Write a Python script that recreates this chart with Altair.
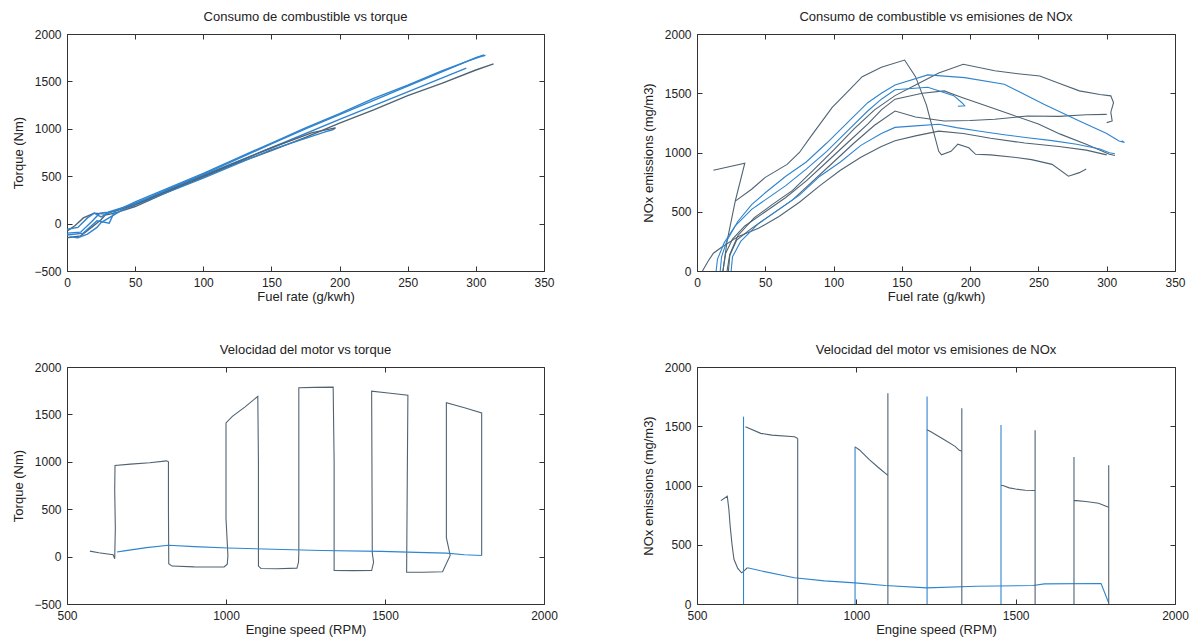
import altair as alt
import pandas as pd

BLUE = "#2f84cf"
GREY = "#4f6373"
FONT = "Liberation Sans"

# ---------------- Panel 1: fuel rate vs torque ----------------
P1_A_X = [0, 8, 15, 20, 25, 30, 40, 50, 75, 100, 125, 150, 175, 200, 225, 250, 275, 295, 303, 307, 304]
P1_A_Y = [-60, -40, 60, 110, 70, 110, 160, 230, 380, 530, 690, 850, 1010, 1160, 1320, 1460, 1610, 1720, 1760, 1775, 1765]
P1_B_X = [0, 10, 18, 24, 30, 50, 75, 100, 125, 150, 175, 200, 225, 250, 275, 300, 306]
P1_B_Y = [-100, -90, 20, 110, 120, 210, 370, 520, 680, 840, 1000, 1150, 1300, 1450, 1600, 1750, 1780]
P1_C_X = [0, 10, 18, 25, 28, 35, 50, 75, 100, 125, 150, 175, 200, 225, 250, 275, 300, 313]
P1_C_Y = [-150, -130, -40, 40, 90, 110, 180, 340, 490, 640, 770, 910, 1060, 1200, 1350, 1480, 1620, 1685]
P1_D_X = [0, 12, 22, 31, 35, 60, 100, 150, 200, 250, 293]
P1_D_Y = [-120, -100, 30, 5, 130, 270, 510, 800, 1100, 1390, 1640]
P1_E_X = [0, 6, 12, 20, 28, 50, 100, 150, 180, 197, 195]
P1_E_Y = [-80, -20, 60, 110, 100, 200, 500, 800, 960, 1010, 990]
P1_F_X = [2, 8, 15, 22, 25, 40, 100, 150, 190, 195]
P1_F_Y = [-140, -150, -110, -40, 10, 140, 480, 780, 970, 990]

# ---------------- Panel 2: fuel rate vs NOx ----------------
P2_A0_X = [12, 35, 28, 22, 19]
P2_A0_Y = [850, 910, 590, 250, 0]
P2_A_X = [28, 40, 50, 66, 75, 83, 99, 110, 121, 135, 152, 160, 168, 177, 179, 186, 191, 199, 204, 215, 232, 245, 260, 272, 280, 285]
P2_A_Y = [590, 690, 790, 900, 1000, 1130, 1380, 1510, 1640, 1720, 1780, 1640, 1400, 1010, 980, 1010, 1070, 1040, 985, 980, 960, 940, 900, 800, 830, 860]
P2_B_X = [22, 24, 30, 42, 55, 70, 85, 100, 115, 130, 145, 160, 177, 195, 218, 235, 251, 266, 280, 295, 303, 305, 303, 304, 300]
P2_B_Y = [0, 140, 300, 450, 560, 680, 850, 1020, 1200, 1360, 1480, 1570, 1670, 1745, 1690, 1665, 1645, 1580, 1520, 1490, 1478, 1420, 1340, 1266, 1252]
P2_C_X = [17, 18, 22, 30, 40, 50, 65, 80, 95, 110, 125, 135, 145, 169, 196, 225, 254, 280, 300, 309, 313, 311]
P2_C_Y = [0, 120, 260, 420, 560, 660, 800, 920, 1080, 1250, 1420, 1500, 1570, 1655, 1632, 1576, 1407, 1266, 1160, 1097, 1085, 1100]
P2_D_X = [14, 15, 20, 28, 40, 50, 65, 80, 95, 110, 125, 135, 145, 169, 188, 194, 196, 191]
P2_D_Y = [0, 100, 240, 380, 520, 600, 720, 860, 1010, 1180, 1350, 1450, 1530, 1550, 1480, 1420, 1395, 1390]
P2_E_X = [19, 21, 26, 35, 50, 65, 80, 95, 110, 125, 135, 145, 165, 181, 194, 210, 230, 250, 266, 285, 302, 306]
P2_E_Y = [0, 150, 270, 380, 500, 620, 760, 920, 1080, 1240, 1360, 1450, 1500, 1520, 1465, 1400, 1320, 1240, 1155, 1070, 985, 975]
P2_F_X = [23, 24, 29, 40, 55, 70, 85, 100, 115, 130, 145, 160, 181, 200, 218, 242, 265, 285, 300]
P2_F_Y = [0, 130, 260, 360, 480, 600, 760, 920, 1080, 1230, 1350, 1300, 1266, 1270, 1280, 1308, 1305, 1318, 1322]
P2_G_X = [25, 26, 32, 45, 60, 75, 90, 105, 120, 135, 145, 160, 177, 190, 206, 225, 242, 260, 278, 295, 302, 306]
P2_G_Y = [0, 120, 250, 400, 520, 640, 800, 920, 1060, 1160, 1212, 1225, 1238, 1210, 1182, 1150, 1125, 1100, 1069, 1030, 998, 990]
P2_H_X = [4, 8, 12, 18, 30, 45, 60, 75, 90, 105, 120, 135, 145, 160, 177, 195, 215, 240, 265, 285, 300]
P2_H_Y = [0, 80, 150, 200, 290, 360, 460, 580, 720, 850, 960, 1050, 1100, 1140, 1180, 1160, 1120, 1080, 1050, 1020, 980]

# ---------------- Panel 3: engine speed vs torque ----------------
P3_T_X = [572, 600, 645, 650, 652, 650, 651, 700, 760, 813, 819, 819, 820, 830, 900, 960, 994, 1004, 1006, 1000, 1000,
          1020, 1060, 1100, 1102, 1102, 1110, 1160, 1223, 1228, 1229, 1229, 1280, 1337, 1340, 1340, 1400, 1458, 1464,
          1460, 1458, 1510, 1572, 1570, 1568, 1620, 1681, 1705, 1693, 1693, 1750, 1804, 1804]
P3_T_Y = [58, 40, 20, -22, 300, 700, 961, 975, 990, 1010, 1000, 500, -75, -100, -108, -110, -110, -80, 12, 400, 1410,
          1480, 1580, 1690, 1000, -100, -125, -128, -122, -60, 40, 1781, 1785, 1788, 1000, -147, -148, -147, -60,
          40, 1746, 1725, 1703, 800, -165, -165, -160, 12, 200, 1622, 1570, 1516, 12]
P3_B_X = [1804, 1750, 1693, 1600, 1488, 1300, 1006, 900, 819, 750, 680, 657]
P3_B_Y = [12, 20, 37, 45, 55, 65, 90, 105, 119, 95, 60, 48]

# ---------------- Panel 4: engine speed vs NOx ----------------
P4_S_X = [575, 595, 600, 604, 610, 616, 628, 640, 652, 658]
P4_S_Y = [872, 909, 800, 660, 500, 377, 300, 263, 290, 306]
P4_B_X = [658, 700, 806, 900, 996, 1091, 1222, 1376, 1555, 1590, 1768, 1792]
P4_B_Y = [306, 280, 221, 195, 178, 156, 136, 150, 156, 170, 173, 8]
P4_V_X = [646, 816, 996, 1099, 1222, 1331, 1454, 1561, 1683, 1792]
P4_V_TOP = [1581, 1397, 1326, 1779, 1751, 1651, 1510, 1467, 1241, 1170]
P4_V_TONE = ["b", "g", "b", "g", "b", "g", "b", "g", "g", "g"]
P4_T1_X = [652, 700, 735, 806, 816]
P4_T1_Y = [1496, 1440, 1425, 1411, 1397]
P4_T2_X = [996, 1010, 1040, 1070, 1099]
P4_T2_Y = [1326, 1300, 1220, 1150, 1085]
P4_T3_X = [1222, 1234, 1280, 1310, 1323, 1331]
P4_T3_Y = [1470, 1453, 1380, 1330, 1297, 1290]
P4_T4_X = [1454, 1460, 1480, 1500, 1530, 1561]
P4_T4_Y = [1000, 1000, 980, 970, 960, 958]
P4_T5_X = [1683, 1691, 1720, 1760, 1792]
P4_T5_Y = [872, 872, 865, 850, 816]

# axis tick values
FUEL_TICKS = [0, 50, 100, 150, 200, 250, 300, 350]
SPEED_TICKS = [500, 1000, 1500, 2000]
TORQUE_TICKS = [-500, 0, 500, 1000, 1500, 2000]
NOX_TICKS = [0, 500, 1000, 1500, 2000]


def build(series):
    rows = []
    for sid, (xs, ys, tone) in enumerate(series):
        for i, (x, y) in enumerate(zip(xs, ys)):
            rows.append({"x": x, "y": y, "s": sid, "i": i, "tone": tone})
    return pd.DataFrame(rows)


def panel(df, title, xdom, ydom, xticks, yticks, xtitle, ytitle, w, h, sw=1.1):
    base = alt.Chart(df)
    xs = alt.Scale(domain=xdom, nice=False, zero=False)
    ys = alt.Scale(domain=ydom, nice=False, zero=False)
    common = dict(offset=-5, tickSize=5, domain=False, grid=False, labelFlush=False,
                  labelOverlap=False, format="d")
    lines = base.mark_line(strokeWidth=sw, clip=True).encode(
        x=alt.X("x:Q", scale=xs, axis=alt.Axis(values=xticks, title=xtitle, orient="bottom",
                                               labelPadding=6, titlePadding=2, **common)),
        y=alt.Y("y:Q", scale=ys, axis=alt.Axis(values=yticks, title=ytitle, orient="left",
                                               labelPadding=6, titlePadding=6, minExtent=41,
                                               maxExtent=41, **common)),
        detail="s:N",
        order="i:Q",
        color=alt.Color("tone:N", scale=alt.Scale(domain=["b", "g"], range=[BLUE, GREY]), legend=None),
    )
    ticks = base.mark_point(opacity=0).encode(
        x=alt.X("x:Q", axis=alt.Axis(values=xticks, title=None, orient="top", labels=False, **common)),
        y=alt.Y("y:Q", axis=alt.Axis(values=yticks, title=None, orient="right", labels=False, **common)),
    )
    return (
        alt.layer(lines, ticks)
        .resolve_axis(x="independent", y="independent")
        .properties(width=w, height=h, title=alt.TitleParams(title, anchor="middle"))
    )


df1 = build([
    (P1_C_X, P1_C_Y, "g"), (P1_D_X, P1_D_Y, "b"), (P1_F_X, P1_F_Y, "b"),
    (P1_E_X, P1_E_Y, "g"), (P1_B_X, P1_B_Y, "b"), (P1_A_X, P1_A_Y, "b"),
])
df2 = build([
    (P2_A0_X, P2_A0_Y, "g"), (P2_A_X, P2_A_Y, "g"), (P2_B_X, P2_B_Y, "g"),
    (P2_E_X, P2_E_Y, "g"), (P2_F_X, P2_F_Y, "g"), (P2_H_X, P2_H_Y, "g"),
    (P2_C_X, P2_C_Y, "b"), (P2_D_X, P2_D_Y, "b"), (P2_G_X, P2_G_Y, "b"),
])
df3 = build([(P3_T_X, P3_T_Y, "g"), (P3_B_X, P3_B_Y, "b")])
s4 = [(P4_S_X, P4_S_Y, "g"), (P4_B_X, P4_B_Y, "b")]
for vx, vt, tone in zip(P4_V_X, P4_V_TOP, P4_V_TONE):
    s4.append(([vx, vx], [0, vt], tone))
for tx, ty in [(P4_T1_X, P4_T1_Y), (P4_T2_X, P4_T2_Y), (P4_T3_X, P4_T3_Y), (P4_T4_X, P4_T4_Y), (P4_T5_X, P4_T5_Y)]:
    s4.append((tx, ty, "g"))
df4 = build(s4)

W1, W2, H = 477, 478, 237
p1 = panel(df1, "Consumo de combustible vs torque", [0, 350], [-500, 2000], FUEL_TICKS, TORQUE_TICKS,
           "Fuel rate (g/kwh)", "Torque (Nm)", W1, H, sw=1.4)
p2 = panel(df2, "Consumo de combustible vs emisiones de NOx", [0, 350], [0, 2000], FUEL_TICKS, NOX_TICKS,
           "Fuel rate (g/kwh)", "NOx emissions (mg/m3)", W2, H)
p3 = panel(df3, "Velocidad del motor vs torque", [500, 2000], [-500, 2000], SPEED_TICKS, TORQUE_TICKS,
           "Engine speed (RPM)", "Torque (Nm)", W1, H)
p4 = panel(df4, "Velocidad del motor vs emisiones de NOx", [500, 2000], [0, 2000], SPEED_TICKS, NOX_TICKS,
           "Engine speed (RPM)", "NOx emissions (mg/m3)", W2, H)

chart = (
    alt.concat(p1, p2, p3, p4, columns=2, spacing={"row": 96, "column": 153}, bounds="flush")
    .properties(padding={"left": 3, "top": 2, "right": 0, "bottom": 0}, background="white")
    .configure_view(stroke="#333333", strokeWidth=1)
    .configure_axis(labelFont=FONT, labelFontSize=12, labelColor="#222222", titleFont=FONT,
                    titleFontSize=13, titleFontWeight="normal", titleColor="#222222",
                    tickColor="#333333")
    .configure_title(font=FONT, fontSize=13, fontWeight="normal", color="#222222", offset=0)
)

chart.save("out.html", embed_options={"renderer": "svg", "actions": False})
